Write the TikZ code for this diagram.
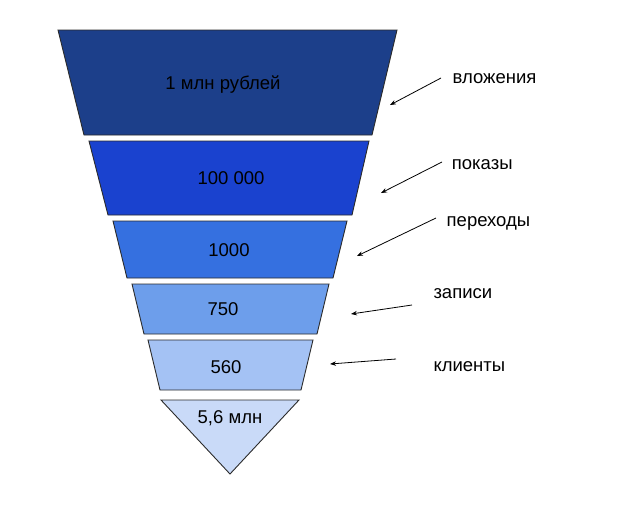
\documentclass[tikz,border=0pt]{standalone}
\usepackage{fontspec}
\setmainfont{Liberation Sans}
\usetikzlibrary{arrows.meta}
\definecolor{cA}{HTML}{1C3F8A}
\definecolor{cB}{HTML}{1A42CF}
\definecolor{cC}{HTML}{3570E0}
\definecolor{cD}{HTML}{6D9EEB}
\definecolor{cE}{HTML}{A4C2F4}
\definecolor{cF}{HTML}{C9DAF8}
\definecolor{edge}{HTML}{2B2B2B}
\tikzset{
  band/.style={draw=edge, line width=0.9pt, line join=miter},
  val/.style={font=\fontsize{18.5}{20}\selectfont, text=black, inner sep=0pt, anchor=base},
  lbl/.style={font=\fontsize{18.5}{20}\selectfont, text=black, inner sep=0pt, anchor=base west},
  pointer/.style={draw=black, line width=0.8pt, -{Stealth[length=6pt,width=4.5pt]}}
}
\begin{document}
\begin{tikzpicture}[x=1pt,y=-1pt]
\useasboundingbox (0,0) rectangle (638,515);
% funnel bands
\path[band, fill=cA] (58,30) -- (397,30) -- (372,135) -- (84,135) -- cycle;
\path[band, fill=cB] (89,141) -- (369,141) -- (352,215) -- (108,215) -- cycle;
\path[band, fill=cC] (113,221) -- (347,221) -- (333,278) -- (127,278) -- cycle;
\path[band, fill=cD] (132,284) -- (329,284) -- (317,334) -- (144,334) -- cycle;
\path[band, fill=cE] (148,340) -- (313,340) -- (301,390) -- (160,390) -- cycle;
\path[band, fill=cF] (161,400) -- (299,400) -- (230,474) -- cycle;
% values
\node[val] (v1) at (223,89.3) {1 млн рублей};
\node[val] (v2) at (231,184.3) {100 000};
\node[val] (v3) at (229,256) {1000};
\node[val] (v4) at (223,315.6) {750};
\node[val] (v5) at (226,373.3) {560};
\node[val] (v6) at (230,423.3) {5,6 млн};
% labels
\node[lbl] (l1) at (452.5,83.3) {вложения};
\node[lbl] (l2) at (451.7,169) {показы};
\node[lbl] (l3) at (446.5,226) {переходы};
\node[lbl] (l4) at (433.3,298.3) {записи};
\node[lbl] (l5) at (433.3,371.7) {клиенты};
% arrow ends
\coordinate (s1) at (441,78);  \coordinate (t1) at (390,105);
\coordinate (s2) at (442,162); \coordinate (t2) at (381,193);
\coordinate (s3) at (436,218); \coordinate (t3) at (357,256);
\coordinate (s4) at (412,305); \coordinate (t4) at (351,314);
\coordinate (s5) at (396,359); \coordinate (t5) at (330,364);
\draw[pointer] (s1) -- (t1);
\draw[pointer] (s2) -- (t2);
\draw[pointer] (s3) -- (t3);
\draw[pointer] (s4) -- (t4);
\draw[pointer] (s5) -- (t5);
\end{tikzpicture}
\end{document}
